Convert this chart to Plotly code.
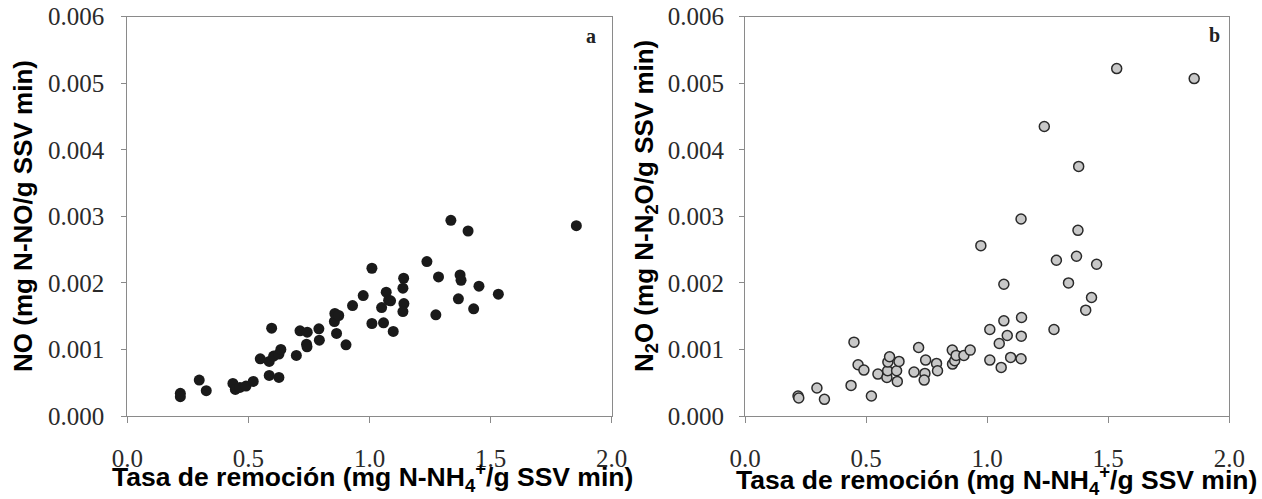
import plotly.graph_objects as go

# Panel a: NO production vs ammonium removal rate
rate_a = [0.219, 0.219, 0.297, 0.326, 0.436, 0.446, 0.465, 0.490, 0.520, 0.549,
          0.586, 0.586, 0.596, 0.604, 0.626, 0.626, 0.634, 0.698, 0.713, 0.743,
          0.740, 0.742, 0.791, 0.793, 0.855, 0.857, 0.873, 0.864, 0.903, 0.930,
          0.974, 1.010, 1.010, 1.050, 1.058, 1.069, 1.079, 1.087, 1.098, 1.141,
          1.138, 1.142, 1.138, 1.237, 1.285, 1.274, 1.336, 1.374, 1.378, 1.367,
          1.407, 1.452, 1.430, 1.532, 1.854]
no_a = [0.00034, 0.00029, 0.00054, 0.00038, 0.00049, 0.00040, 0.00043, 0.00045, 0.00052, 0.00086,
        0.00082, 0.00061, 0.00132, 0.00090, 0.00058, 0.00093, 0.00100, 0.00091, 0.00128, 0.00126,
        0.00108, 0.00104, 0.00131, 0.00114, 0.00142, 0.00154, 0.00151, 0.00124, 0.00107, 0.00166,
        0.00181, 0.00222, 0.00139, 0.00163, 0.00140, 0.00186, 0.00174, 0.00173, 0.00127, 0.00207,
        0.00192, 0.00169, 0.00157, 0.00232, 0.00209, 0.00152, 0.00294, 0.00212, 0.00204, 0.00176,
        0.00278, 0.00195, 0.00161, 0.00183, 0.00286]

# Panel b: N2O production vs ammonium removal rate
rate_b = [0.219, 0.222, 0.297, 0.328, 0.438, 0.450, 0.467, 0.491, 0.522, 0.549,
          0.586, 0.589, 0.590, 0.597, 0.626, 0.629, 0.636, 0.698, 0.717, 0.743,
          0.740, 0.746, 0.791, 0.795, 0.857, 0.856, 0.866, 0.872, 0.904, 0.930,
          0.974, 1.011, 1.011, 1.050, 1.058, 1.069, 1.069, 1.083, 1.097, 1.140,
          1.142, 1.141, 1.140, 1.236, 1.286, 1.276, 1.336, 1.369, 1.375, 1.378,
          1.431, 1.407, 1.452, 1.535, 1.855]
n2o_b = [0.00030, 0.00027, 0.00042, 0.00025, 0.00046, 0.00111, 0.00077, 0.00069, 0.00030, 0.00063,
         0.00058, 0.00068, 0.00081, 0.00089, 0.00068, 0.00052, 0.00082, 0.00066, 0.00103, 0.00064,
         0.00054, 0.00084, 0.00079, 0.00068, 0.00078, 0.00099, 0.00083, 0.00091, 0.00091, 0.00099,
         0.00256, 0.00130, 0.00084, 0.00109, 0.00073, 0.00198, 0.00143, 0.00121, 0.00088, 0.00296,
         0.00148, 0.00120, 0.00086, 0.00435, 0.00234, 0.00130, 0.00200, 0.00240, 0.00279, 0.00375,
         0.00178, 0.00159, 0.00228, 0.00522, 0.00507]

x_ticks = [0.0, 0.5, 1.0, 1.5, 2.0]
x_ticktext = ["0.0", "0.5", "1.0", "1.5", "2.0"]
y_ticks = [0.000, 0.001, 0.002, 0.003, 0.004, 0.005, 0.006]
y_ticktext = ["0.000", "0.001", "0.002", "0.003", "0.004", "0.005", "0.006"]

W, H = 1262, 499

def px_x(p):
    return p / W

def px_y(p):
    return 1 - p / H

fig = go.Figure()
fig.add_trace(go.Scatter(x=rate_a, y=no_a, mode="markers", xaxis="x", yaxis="y",
                         marker=dict(size=11, color="#1a1a1a", line=dict(width=0)),
                         showlegend=False))
fig.add_trace(go.Scatter(x=rate_b, y=n2o_b, mode="markers", xaxis="x2", yaxis="y2",
                         marker=dict(size=10, color="#c8c8c8", line=dict(width=1.5, color="#2a2a2a")),
                         showlegend=False))

tick_font = dict(family="Liberation Serif, Times New Roman, serif", size=25, color="#2a2a2a")
axis_common = dict(showgrid=False, zeroline=False, showline=True, linecolor="#8a8a8a",
                   linewidth=1, mirror=True, ticks="outside", tickcolor="#8a8a8a",
                   tickwidth=1, tickfont=tick_font, automargin=False)

ya_dom = [px_y(416), px_y(16.7)]
fig.update_layout(
    template="none",
    width=W, height=H,
    margin=dict(l=0, r=0, t=0, b=0),
    paper_bgcolor="white", plot_bgcolor="white",
    xaxis=dict(domain=[px_x(127.3), px_x(611.7)], range=[0, 2.0], tickvals=x_ticks,
               ticktext=x_ticktext, anchor="y", ticklen=6, ticklabelstandoff=14, **axis_common),
    yaxis=dict(domain=ya_dom, range=[0, 0.006], tickvals=y_ticks, ticktext=y_ticktext,
               anchor="x", ticklen=5, ticklabelstandoff=12, **axis_common),
    xaxis2=dict(domain=[px_x(745), px_x(1229.3)], range=[0, 2.0], tickvals=x_ticks,
                ticktext=x_ticktext, anchor="y2", ticklen=6, ticklabelstandoff=14, **axis_common),
    yaxis2=dict(domain=ya_dom, range=[0, 0.006], tickvals=y_ticks, ticktext=y_ticktext,
                anchor="x2", ticklen=5, ticklabelstandoff=10, **axis_common),
)

title_font = dict(family="Liberation Sans", size=26.5, color="black")
ytitle_font = dict(family="Liberation Sans", size=26, color="black")
annots = [
    dict(text="<b>Tasa de remoción (mg N-NH<sub>4</sub><sup>+</sup>/g SSV min)</b>",
         x=px_x(372), y=px_y(477), font=title_font),
    dict(text="<b>Tasa de remoción (mg N-NH<sub>4</sub><sup>+</sup>/g SSV min)</b>",
         x=px_x(996), y=px_y(480), font=title_font),
    dict(text="<b>NO (mg N-NO/g SSV min)</b>", x=px_x(23), y=px_y(216),
         textangle=-90, font=ytitle_font),
    dict(text="<b>N<sub>2</sub>O (mg N-N<sub>2</sub>O/g SSV min)</b>", x=px_x(646), y=px_y(206),
         textangle=-90, font=ytitle_font),
    dict(text="<b>a</b>", x=px_x(591), y=px_y(36),
         font=dict(family="Liberation Serif", size=20, color="#222")),
    dict(text="<b>b</b>", x=px_x(1214), y=px_y(35),
         font=dict(family="Liberation Serif", size=20, color="#222")),
]
for a in annots:
    fig.add_annotation(xref="paper", yref="paper", showarrow=False,
                       xanchor="center", yanchor="middle", **a)

fig.write_html("out.html")
